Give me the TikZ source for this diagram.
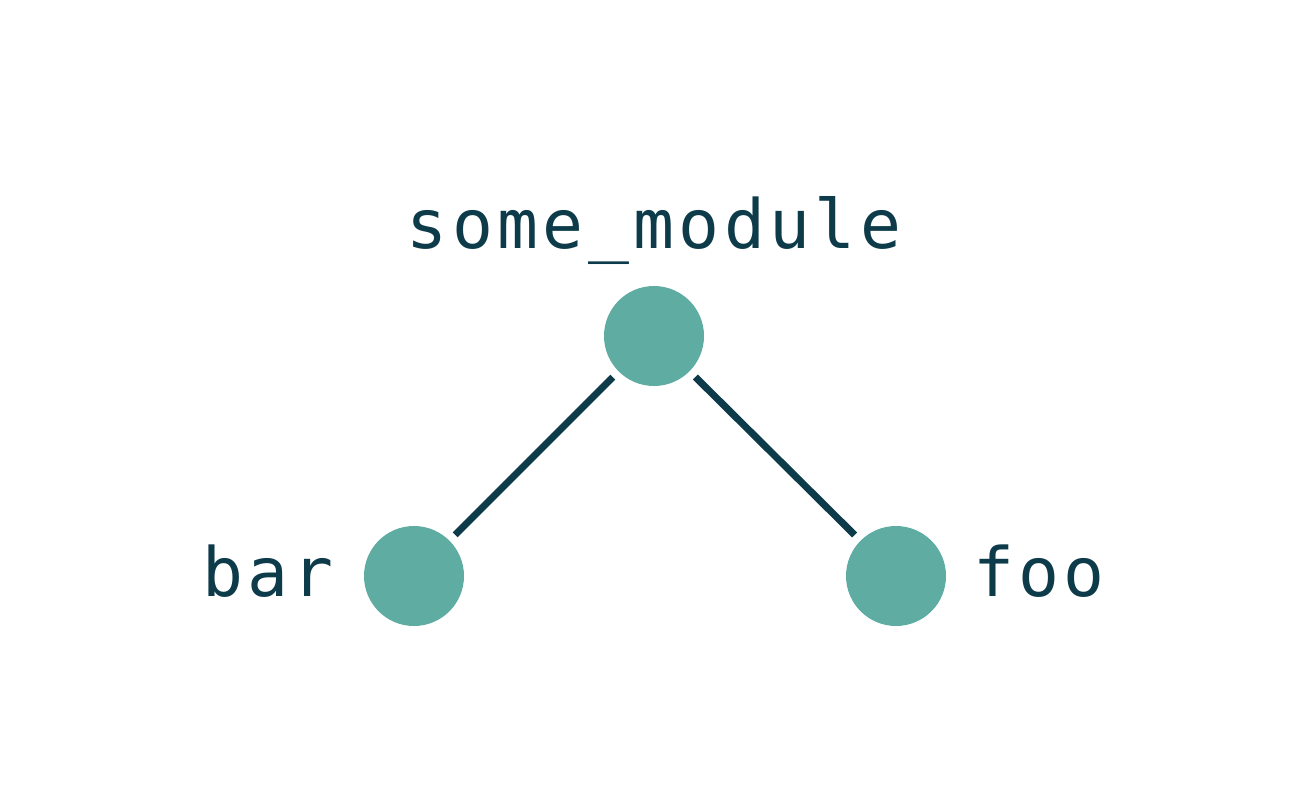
\documentclass[tikz,border=0pt]{standalone}
\usepackage{fontspec}
\setmonofont[LetterSpace=6.5]{DejaVu Sans Mono}
\usetikzlibrary{positioning}
\definecolor{inkteal}{HTML}{0D3B4A}
\definecolor{dotteal}{HTML}{5FACA3}

\begin{document}
\begin{tikzpicture}[x=0.75pt,y=-0.75pt,
    dot/.style={circle,fill=dotteal,minimum size=75pt,inner sep=0pt},
    tag/.style={text=inkteal,font=\fontsize{51}{51}\selectfont\ttfamily,inner sep=0pt},
    edge/.style={inkteal,line width=5.25pt,shorten <=6pt,shorten >=6pt}]
  \useasboundingbox (0,0) rectangle (1310,806);

  % 点
  \node[dot] (top) at (654,336) {};
  \node[dot] (bar) at (414,576) {};
  \node[dot] (foo) at (896,576) {};

  % ラベル
  \node[tag,anchor=base] (toplbl) at (654,248) {some\_module};
  \node[tag,anchor=base] (barlbl) at (268,596) {bar};
  \node[tag,anchor=base] (foolbl) at (1039,596) {foo};

  % 線
  \draw[edge] (top) -- (bar);
  \draw[edge] (top) -- (foo);
\end{tikzpicture}
\end{document}
